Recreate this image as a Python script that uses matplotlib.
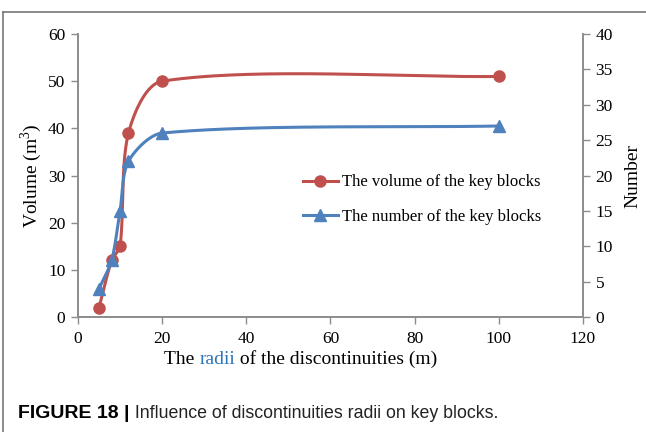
import matplotlib
matplotlib.use("Agg")
import matplotlib.pyplot as plt
from matplotlib.lines import Line2D
import numpy as np

# data
radii = [5, 8, 10, 12, 20, 100]
volume = [2, 12, 15, 39, 50, 51]
number = [4, 8, 15, 22, 26, 27]

red = "#C0504D"
blue = "#4F81BD"
grey = "#8C8C8C"


def excel_smooth(x, y, sx, sy, n=60, k=0.28):
    # excel-like smoothed line, worked out in pixel space (sx, sy = px per unit)
    p = np.column_stack([np.asarray(x) * sx, np.asarray(y) * sy]).astype(float)
    p = np.vstack([p[0], p, p[-1]])
    out = []
    for i in range(1, len(p) - 2):
        p0, p1, p2, p3 = p[i - 1], p[i], p[i + 1], p[i + 2]
        d = np.linalg.norm(p2 - p1)
        t1 = (p2 - p0) / np.linalg.norm(p2 - p0)
        t2 = (p3 - p1) / np.linalg.norm(p3 - p1)
        c1 = p1 + t1 * d * k
        c2 = p2 - t2 * d * k
        t = np.linspace(0, 1, n)[:, None]
        seg = ((1 - t) ** 3) * p1 + 3 * ((1 - t) ** 2) * t * c1 + 3 * (1 - t) * t ** 2 * c2 + t ** 3 * p2
        out.append(seg)
    out = np.vstack(out)
    return out[:, 0] / sx, out[:, 1] / sy


plt.rcParams['font.family'] = ['Liberation Serif', 'DejaVu Serif']
plt.rcParams['mathtext.fontset'] = 'custom'
plt.rcParams['mathtext.rm'] = 'Liberation Serif'

fig = plt.figure(figsize=(6.46, 4.32), dpi=100)
ax = fig.add_axes([0.1207, 0.2662, 0.7818, 0.6551])
ax2 = ax.twinx()

px_x = 505 / 120.0
sx, sy = excel_smooth(radii, volume, px_x, 283 / 60.0)
ax.plot(sx, sy, color=red, lw=2.2, zorder=3)
ax.plot(radii, volume, 'o', color=red, ms=8, zorder=4)

nx, ny = excel_smooth(radii, number, px_x, 283 / 40.0)
ax2.plot(nx, ny, color=blue, lw=2.2, zorder=3)
ax2.plot(radii, number, '^', color=blue, ms=8.5, zorder=4)

ax.set_xlim(0, 120)
ax.set_ylim(0, 60)
ax2.set_ylim(0, 40)
ax.set_xticks(range(0, 121, 20))
ax.set_yticks(range(0, 61, 10))
ax2.set_yticks(range(0, 41, 5))

for a in (ax, ax2):
    a.spines['top'].set_visible(False)
    for s in ('left', 'right', 'bottom'):
        a.spines[s].set_color(grey)
        a.spines[s].set_linewidth(1.2)
    a.tick_params(colors=grey, labelcolor='black', labelsize=12.5, length=5, width=1.0, direction='out', pad=4)
ax.tick_params(axis='x', pad=5)
ax.patch.set_visible(False)

ax.set_ylabel("Volume (m$^3$)", fontsize=14, labelpad=3)
ax2.set_ylabel("Number", fontsize=14, labelpad=8)

# x label with "radii" in blue
xl1 = fig.text(164 / 646, 1 - 364 / 432, "The ", fontsize=14, ha='left', va='baseline')
xl2 = ax.annotate("radii", xycoords=xl1, xy=(1, 0), va='bottom', ha='left',
                  fontsize=14, color="#2E75B6", annotation_clip=False)
ax.annotate(" of the discontinuities (m)", xycoords=xl2, xy=(1, 0), va='bottom', ha='left',
            fontsize=14, color='black', annotation_clip=False)

# legend
handles = [Line2D([], [], color=red, lw=2.2, marker='o', ms=8),
           Line2D([], [], color=blue, lw=2.2, marker='^', ms=8.5)]
labels = ["The volume of the key blocks", "The number of the key blocks"]
ax.legend(handles, labels, loc='center left', bbox_to_anchor=(0.445, 0.415), frameon=False,
          borderpad=0, borderaxespad=0,
          fontsize=12, handlelength=2.1, handletextpad=0.25, labelspacing=1.1)

# outer frame
fig.add_artist(Line2D([3 / 646, 1], [1 - 12 / 432, 1 - 12 / 432], transform=fig.transFigure, color='#777777', lw=1.2))
fig.add_artist(Line2D([3 / 646, 3 / 646], [0, 1 - 12 / 432], transform=fig.transFigure, color='#777777', lw=1.2))

# caption
cap1 = fig.text(18 / 646, 1 - 418 / 432, "FIGURE 18 |", fontsize=14, fontweight='bold',
                family=['Liberation Sans', 'DejaVu Sans'], ha='left', va='baseline')
ax.annotate(" Influence of discontinuities radii on key blocks.", xycoords=cap1, xy=(1, 0),
            va='bottom', ha='left', fontsize=12.75, family=['Liberation Sans', 'DejaVu Sans'],
            color='#222222', annotation_clip=False)

fig.savefig("out.png", dpi=100)
